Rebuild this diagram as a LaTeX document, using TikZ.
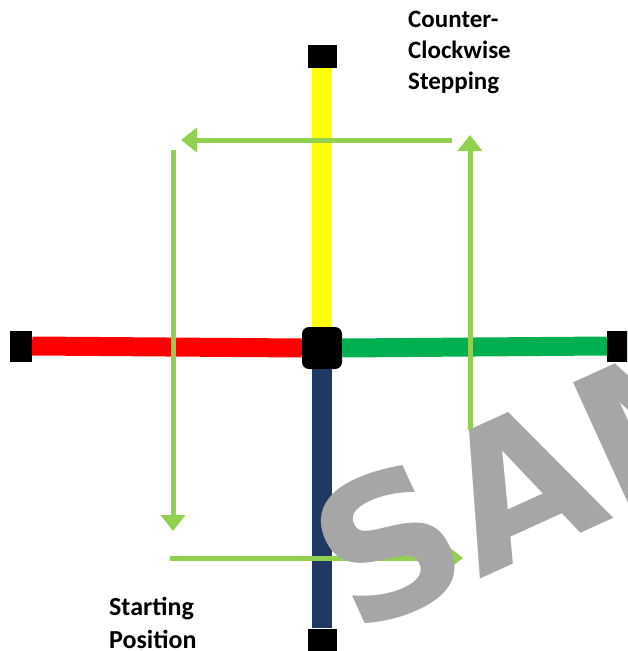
\documentclass[tikz,border=0pt]{standalone}
\usepackage{fontspec}
\setmainfont{Carlito}
\newfontfamily\markfont{DejaVu Sans}
\usetikzlibrary{arrows.meta}
\definecolor{CY}{RGB}{255, 255, 0}
\definecolor{CR}{RGB}{255, 0, 0}
\definecolor{CG}{RGB}{0, 176, 80}
\definecolor{CB}{RGB}{32, 56, 100}
\definecolor{CS}{RGB}{146, 208, 80}
\definecolor{CW}{RGB}{166, 166, 166}

\begin{document}
\begin{tikzpicture}[x=1pt, y=-1pt,
        padv/.style={fill=black, inner sep=0pt, minimum width=29pt, minimum height=23pt},
        padh/.style={fill=black, inner sep=0pt, minimum width=22pt, minimum height=31pt},
        stepline/.style={CS, line width=5pt, -{Triangle[length=16pt, width=24pt]}},
        caption/.style={font=\bfseries\fontsize{25}{31}\selectfont, align=left, inner sep=0pt, anchor=north west}]
        \useasboundingbox (0,0) rectangle (627,651);
        \clip (0,0) rectangle (627,651);
        % pads
        \node[padv] (top)    at (322, 56.5) {};
        \node[padv] (bottom) at (322, 640)  {};
        \node[padh] (left)   at (21, 346)   {};
        \node[padh] (right)  at (618, 346)  {};
        \node[fill=black, inner sep=0pt, minimum width=40pt, minimum height=42pt, rounded corners=7pt] (hub) at (322, 348) {};
        % arms
        \draw[CY, line width=20pt] (top.south)  -- (hub.north);
        \draw[CB, line width=20pt] (hub.south)  -- (bottom.north);
        \draw[CR, line width=19pt] (left.east)  -- (hub.west);
        \draw[CG, line width=19pt] (hub.east)   -- (right.west);
        % stepping arrows
        \coordinate (s1) at (452, 140);
        \coordinate (e1) at (181, 140);
        \coordinate (s2) at (173, 150);
        \coordinate (e2) at (173, 531);
        \coordinate (s3) at (170, 558);
        \coordinate (e3) at (463, 558);
        \coordinate (s4) at (470, 430);
        \coordinate (e4) at (470, 135);
        \draw[stepline] (s1) -- (e1);
        \draw[stepline] (s2) -- (e2);
        \draw[stepline] (s3) -- (e3);
        \draw[stepline] (s4) -- (e4);
        % labels
        \node[caption] (ccw) at (408, 11) {Counter-\\Clockwise\\Stepping};
        \node[caption, font=\bfseries\fontsize{26}{33}\selectfont] (start) at (109, 597) {Starting\\Position};
        % watermark
        \node[CW, font=\markfont\bfseries\fontsize{192}{192}\selectfont, rotate=24.5, anchor=base west, inner sep=0pt] (mark) at (354, 637) {SAMPLE};
    \end{tikzpicture}
\end{document}
